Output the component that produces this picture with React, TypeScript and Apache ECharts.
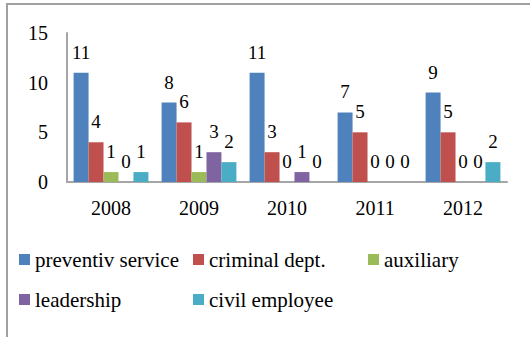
import React, { useEffect, useRef } from "react";
import * as echarts from "echarts";

const categories = ["2008", "2009", "2010", "2011", "2012"];
const seriesNames = ["preventiv service", "criminal dept.", "auxiliary", "leadership", "civil employee"];
const preventiv = [11, 8, 11, 7, 9];
const criminal = [4, 6, 3, 5, 5];
const auxiliary = [1, 1, 0, 0, 0];
const leadership = [0, 3, 1, 0, 0];
const civil = [1, 2, 0, 0, 2];
const yTicks = [0, 5, 10, 15];

const colors = ["#4F81BD", "#C0504D", "#9BBB59", "#8064A2", "#4BACC6"];
const font = "Liberation Serif";

export default function App() {
  const ref = useRef<HTMLDivElement>(null);
  useEffect(() => {
    const chart = echarts.init(ref.current!, null, { renderer: "svg" });
    const values = [preventiv, criminal, auxiliary, leadership, civil];
    const legendPos = [
      [19, 249],
      [193, 249],
      [368, 249],
      [19, 289],
      [193, 289],
    ];
    chart.setOption({
      animation: false,
      textStyle: { fontFamily: font },
      grid: { left: 67, right: 23, top: 33, bottom: 155 },
      xAxis: {
        type: "category",
        data: categories,
        axisLine: { lineStyle: { color: "#a6a6a6", width: 2 } },
        axisTick: { show: false },
        axisLabel: { color: "#000", fontSize: 20, fontFamily: font, margin: 16 },
      },
      yAxis: {
        type: "value",
        min: yTicks[0],
        max: yTicks[yTicks.length - 1],
        interval: 5,
        splitLine: { show: false },
        axisLine: { show: true, lineStyle: { color: "#a6a6a6", width: 2 } },
        axisTick: { show: false },
        axisLabel: { color: "#000", fontSize: 20, fontFamily: font, margin: 19 },
      },
      legend: seriesNames.map((n, i) => ({
        data: [n],
        left: legendPos[i][0],
        top: legendPos[i][1],
        padding: 0,
        icon: "rect",
        itemWidth: 11,
        itemHeight: 11,
        itemGap: 0,
        textStyle: { color: "#000", fontSize: 21, fontFamily: font },
      })),
      series: seriesNames.map((n, i) => ({
        name: n,
        type: "bar",
        data: values[i],
        barGap: "0%",
        barCategoryGap: "15%",
        itemStyle: { color: colors[i] },
        label: {
          show: true,
          position: "top",
          distance: 11,
          color: "#000",
          fontSize: 19,
          fontFamily: font,
        },
      })),
      graphic: [
        { type: "line", shape: { x1: 6, y1: 4, x2: 530, y2: 4 }, style: { stroke: "#a0a0a0", lineWidth: 2 } },
        { type: "line", shape: { x1: 7, y1: 4, x2: 7, y2: 337 }, style: { stroke: "#a0a0a0", lineWidth: 2 } },
      ],
    });
    return () => chart.dispose();
  }, []);
  return (
    <div
      ref={ref}
      style={{ position: "fixed", left: 0, top: 0, width: 530, height: 337, background: "#fff" }}
    />
  );
}
